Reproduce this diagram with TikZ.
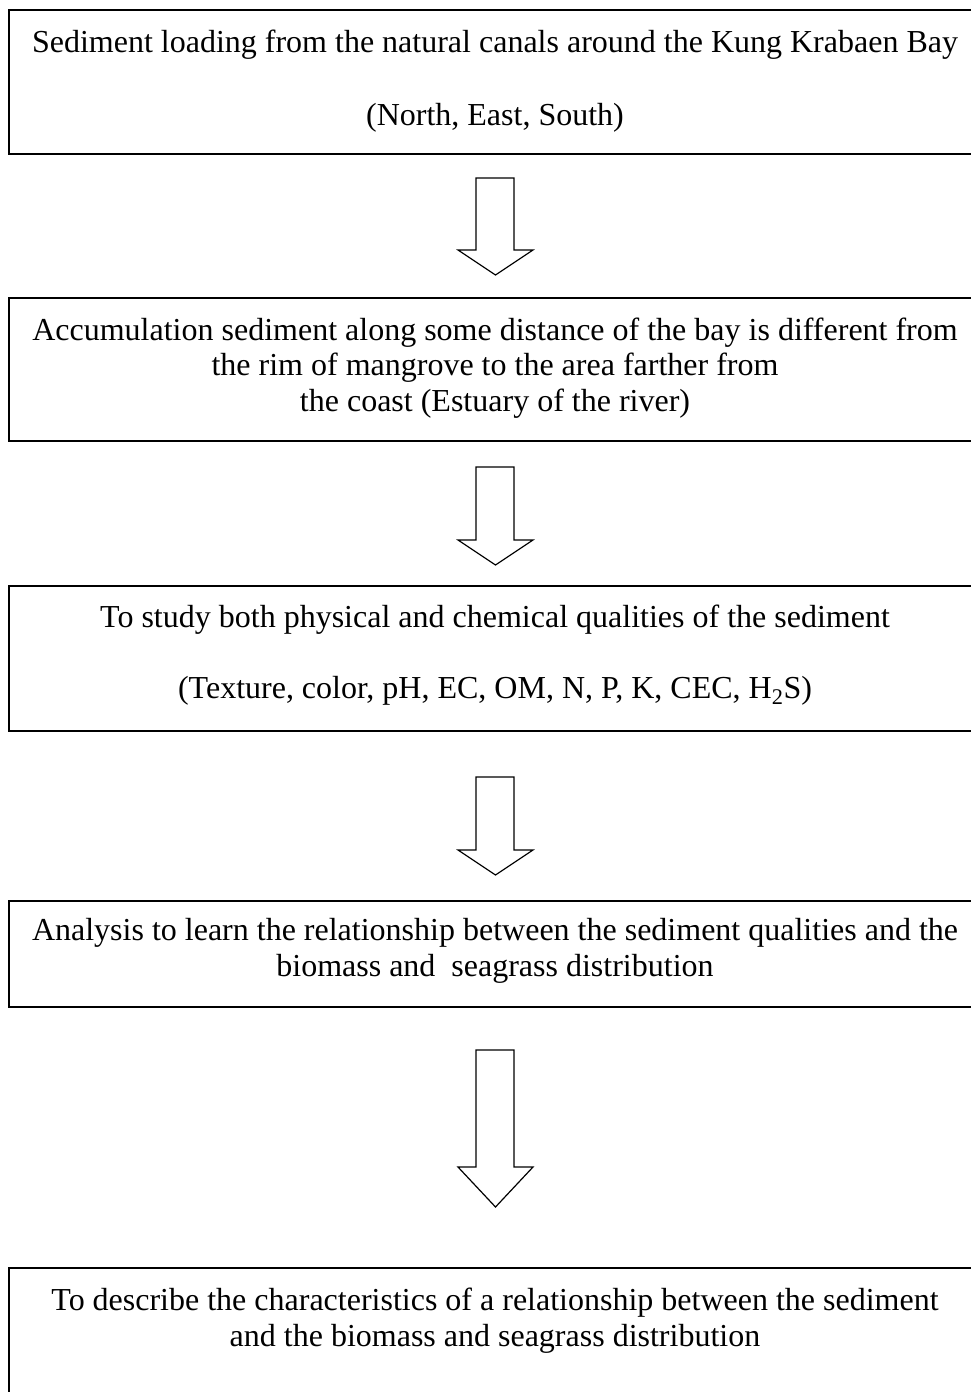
\documentclass[tikz,border=0pt]{standalone}
\usepackage{fontspec}
\setmainfont{Liberation Serif}
\begin{document}
\begin{tikzpicture}[x=1pt,y=-1pt,
  box/.style={draw=black,line width=1.5pt,rectangle,minimum width=972pt,inner sep=0pt},
  txt/.style={anchor=base,inner sep=0pt,font=\fontsize{32}{38}\selectfont},
  blockarrow/.style={draw=black,line width=1.2pt,line join=miter,fill=white}]
\useasboundingbox (0,0) rectangle (971,1392);
% boxes
\node[box,minimum height=144pt] (b1) at (495,82) {};
\node[box,minimum height=143pt] (b2) at (495,369.5) {};
\node[box,minimum height=145pt] (b3) at (495,658.5) {};
\node[box,minimum height=106pt] (b4) at (495,954) {};
\node[box,minimum height=150pt] (b5) at (495,1343) {};
% texts
\node[txt] (t1a) at (495,52) {Sediment loading from the natural canals around the Kung Krabaen Bay};
\node[txt] (t1b) at (495,125) {(North, East, South)};
\node[txt] (t2a) at (495,340) {Accumulation sediment along some distance of the bay is different from};
\node[txt] (t2b) at (495,375.5) {the rim of mangrove to the area farther from};
\node[txt] (t2c) at (495,411) {the coast (Estuary of the river)};
\node[txt] (t3a) at (495,627) {To study both physical and chemical qualities of the sediment};
\node[txt] (t3b) at (495,698) {(Texture, color, pH, EC, OM, N, P, K, CEC, H\textsubscript{2}S)};
\node[txt] (t4a) at (495,940) {Analysis to learn the relationship between the sediment qualities and the};
\node[txt] (t4b) at (495,976) {biomass and\ \ seagrass distribution};
\node[txt] (t5a) at (495,1310) {To describe the characteristics of a relationship between the sediment};
\node[txt] (t5b) at (495,1346) {and the biomass and seagrass distribution};
% block arrows
\draw[blockarrow] (476,178) -- (514,178) -- (514,250) -- (533,250) -- (495.5,275) -- (458,250) -- (476,250) -- cycle;
\draw[blockarrow] (476,467) -- (514,467) -- (514,540) -- (533,540) -- (495.5,565) -- (458,540) -- (476,540) -- cycle;
\draw[blockarrow] (476,777) -- (514,777) -- (514,850) -- (533,850) -- (495.5,875) -- (458,850) -- (476,850) -- cycle;
\draw[blockarrow] (476,1050) -- (514,1050) -- (514,1167) -- (533,1167) -- (495.5,1207) -- (458,1167) -- (476,1167) -- cycle;
\end{tikzpicture}
\end{document}
